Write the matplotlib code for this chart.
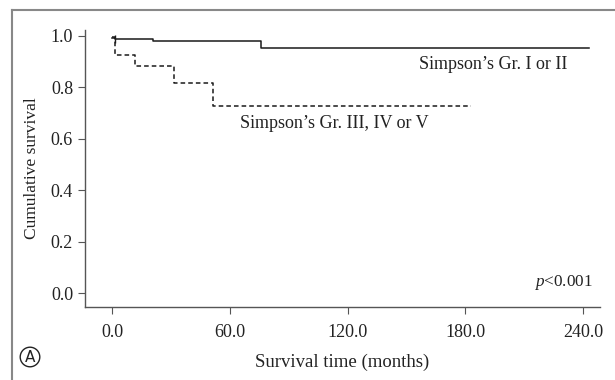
import matplotlib
matplotlib.use("Agg")
import matplotlib.pyplot as plt
from matplotlib.lines import Line2D

# Kaplan-Meier steps
grp1_time = [0, 1.5, 21, 76, 243]
grp1_surv = [0.99, 0.985, 0.977, 0.95, 0.95]
grp1_cens_t = [1.5]
grp1_cens_s = [0.985]

grp2_time = [0, 1.5, 11.7, 31.6, 51.5, 183]
grp2_surv = [0.995, 0.924, 0.88, 0.814, 0.725, 0.725]

x_ticks = [0, 60, 120, 180, 240]
y_ticks = [0.0, 0.2, 0.4, 0.6, 0.8, 1.0]

plt.rcParams["font.family"] = ["Liberation Serif", "DejaVu Serif"]
plt.rcParams["mathtext.fontset"] = "custom"
plt.rcParams["mathtext.it"] = "Liberation Serif:italic"
plt.rcParams["mathtext.rm"] = "Liberation Serif"

fig = plt.figure(figsize=(6.15, 3.8), dpi=100)
ax = fig.add_axes([0.138, 0.192, 0.838, 0.73])

ax.step(grp1_time, grp1_surv, where="post", color="#1a1a1a", lw=1.1)
ax.plot(grp1_cens_t, grp1_cens_s, ls="none", marker="|", ms=6, color="#1a1a1a", mew=1)
ax.step(grp2_time, grp2_surv, where="post", color="#1a1a1a", lw=1.1, ls=(0, (3, 2)))

ax.text(232, 0.887, "Simpson\u2019s Gr. I or II", ha="right", va="center", fontsize=13, color="#222222")
ax.text(65, 0.658, "Simpson\u2019s Gr. III, IV or V", ha="left", va="center", fontsize=13, color="#222222")
ax.text(245, 0.043, "$\\it{p}$<0.001", ha="right", va="center", fontsize=12.3, color="#222222")

ax.set_xlim(-13.8, 248.7)
ax.set_ylim(-0.054, 1.023)
ax.set_xticks(x_ticks)
ax.set_xticklabels([f"{v:.1f}" for v in x_ticks])
ax.set_yticks(y_ticks)
ax.set_yticklabels([f"{v:.1f}" for v in y_ticks])

for s in ["top", "right"]:
    ax.spines[s].set_visible(False)
for s in ["left", "bottom"]:
    ax.spines[s].set_color("#555555")
    ax.spines[s].set_linewidth(1.0)
ax.tick_params(direction="out", length=5, color="#555555", labelsize=13, labelcolor="#222222")
ax.tick_params(axis="x", pad=7)

ax.set_xlabel("Survival time (months)", fontsize=13.5, color="#222222", labelpad=9)
ax.set_ylabel("Cumulative survival", fontsize=12.5, color="#222222", labelpad=8)

# panel border and label
fig.add_artist(Line2D([12 / 615, 12 / 615], [0, 1 - 10 / 380], color="#888888", lw=1.5))
fig.add_artist(Line2D([12 / 615, 1], [1 - 10 / 380, 1 - 10 / 380], color="#888888", lw=1.5))
fig.text(30 / 615, 1 - 357 / 380, "A", ha="center", va="center", fontsize=11,
         family="DejaVu Sans", color="#222222",
         bbox=dict(boxstyle="circle,pad=0.15", fc="white", ec="#222222", lw=1))

fig.savefig("out.png", dpi=100)
